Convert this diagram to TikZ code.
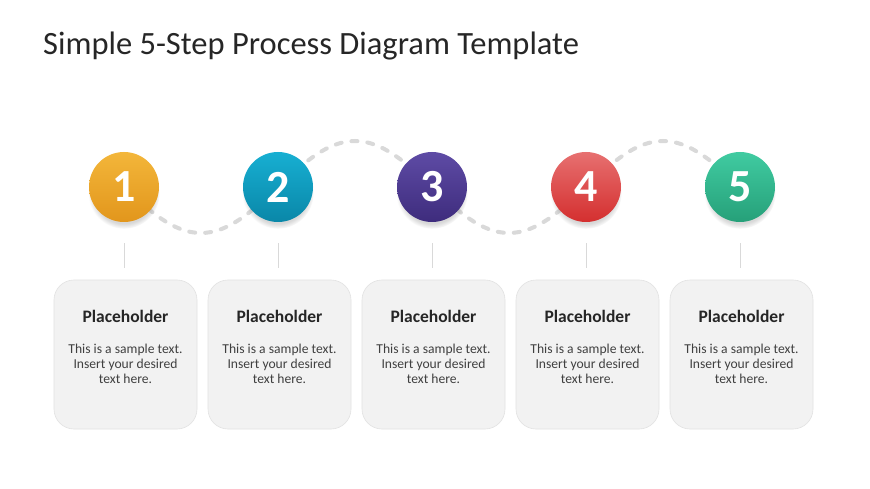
\documentclass[tikz,border=0pt]{standalone}
\usepackage{fontspec}
\setmainfont{Carlito}
\usetikzlibrary{positioning,shadows,backgrounds}
\definecolor{orangeA}{HTML}{F3B63A}\definecolor{orangeB}{HTML}{E2961C}
\definecolor{blueA}{HTML}{17AFD2}\definecolor{blueB}{HTML}{0A87A8}
\definecolor{purpleA}{HTML}{5E4BA5}\definecolor{purpleB}{HTML}{3E2C7D}
\definecolor{redA}{HTML}{E77070}\definecolor{redB}{HTML}{D42F2F}
\definecolor{greenA}{HTML}{40CBA1}\definecolor{greenB}{HTML}{26A079}
\definecolor{cardfill}{HTML}{F2F2F2}\definecolor{cardline}{HTML}{E2E2E2}
\definecolor{wavegray}{HTML}{D9D9D9}\definecolor{ink}{HTML}{262626}\definecolor{inkbody}{HTML}{404040}
\begin{document}
\begin{tikzpicture}[x=1pt,y=-1pt,
  stepball/.style={circle,minimum size=70pt,inner sep=0pt,text=white,
    font=\fontsize{46}{46}\selectfont\bfseries,
    circular drop shadow={shadow xshift=0pt,shadow yshift=-6pt,shadow scale=1.02,opacity=0.3}},
  card/.style={rounded corners=20pt,fill=cardfill,draw=cardline,line width=0.6pt,minimum width=143pt,minimum height=149pt},
  cardhead/.style={font=\fontsize{17.5}{20}\selectfont\bfseries,text=ink,inner sep=0pt},
  cardbody/.style={font=\fontsize{13.6}{15}\selectfont,text=inkbody,align=center,inner sep=0pt},
  tick/.style={draw=wavegray,line width=0.6pt},
  wave/.style={draw=wavegray,line width=4pt,line cap=round,dash pattern=on 6pt off 10pt}]
\useasboundingbox (0,0) rectangle (870,489);
\node[anchor=west,text=ink,font=\fontsize{32.5}{34}\selectfont,inner sep=0pt] (title) at (43,46) {Simple 5-Step Process Diagram Template};
\foreach \i/\x/\ca/\cb in {1/124/orangeA/orangeB,2/278/blueA/blueB,3/432/purpleA/purpleB,4/586/redA/redB,5/740/greenA/greenB}{
  \node[stepball,top color=\ca,bottom color=\cb] (c\i) at (\x,187) {\i};
  \node[card] (b\i) at (\x+1.5,354.5) {};
  \node[cardhead,below=30pt of b\i.north] (h\i) {Placeholder};
  \node[cardbody,below=64pt of b\i.north] (t\i) {This is a sample text.\\Insert your desired\\text here.};
  \draw[tick] ([yshift=-21pt]c\i.south) -- ([yshift=12pt]b\i.north -| c\i.south);
}
\begin{scope}[on background layer]
\fill[white] (0,0) rectangle (870,489);
\draw[wave] (c1.center) sin ++(77,46) cos ++(77,-46) sin ++(77,-46) cos ++(77,46)
  sin ++(77,46) cos ++(77,-46) sin ++(77,-46) cos ++(77,46);
\end{scope}
\end{tikzpicture}
\end{document}
